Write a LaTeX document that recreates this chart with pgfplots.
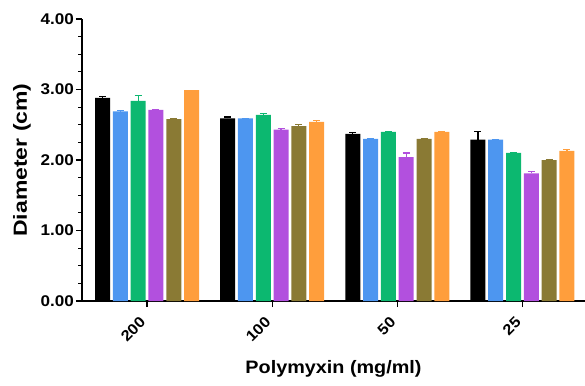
\documentclass[border=0pt]{standalone}
\usepackage{pgfplots}
\pgfplotsset{compat=1.18}
\usepackage{fontspec}
\setmainfont{Liberation Sans}[FakeStretch=1.1]
\definecolor{cblue}{RGB}{77,150,240}
\definecolor{cgreen}{RGB}{12,184,112}
\definecolor{cpurple}{RGB}{178,80,222}
\definecolor{colive}{RGB}{138,122,52}
\definecolor{corange}{RGB}{255,158,60}
\begin{document}
\begin{tikzpicture}
\useasboundingbox (-82pt,-84pt) rectangle (503pt,301pt);
\begin{axis}[
  scale only axis,
  width=503pt, height=282pt,
  ymin=0, ymax=4,
  xmin=-0.52, xmax=3.5,
  ybar=2.8pt, bar width=15pt,
  axis x line=bottom, axis y line=left,
  axis line style={-, line width=1.4pt},
  tick align=outside,
  tick style={line width=1.2pt, black},
  major tick length=6pt, minor tick length=3.5pt,
  xtick={0,1,2,3},
  xticklabels={200,100,50,25},
  x tick label style={xshift=-8pt, yshift=-7pt, rotate=45, anchor=north east, font=\bfseries\fontsize{15}{16}\selectfont, inner sep=1pt},
  ytick={0,1,2,3,4},
  minor y tick num=3,
  yticklabel style={font=\bfseries\fontsize{15.5}{16}\selectfont, inner sep=2pt},
  /pgf/number format/assume math mode=true,
  yticklabel={\pgfmathprintnumber[fixed,fixed zerofill,precision=2]{\tick}},
  ylabel={\bfseries\scalebox{1.1}[1]{Diameter (cm)}},
  xlabel={\bfseries Polymyxin (mg/ml)},
  xlabel style={font=\bfseries\fontsize{18}{20}\selectfont, at={(axis description cs:0.5,0)}, anchor=base, yshift=-72pt},
  ylabel style={font=\bfseries\fontsize{19}{21}\selectfont, at={(axis description cs:-0.1193,0.5)}, anchor=center},
  error bars/y dir=plus, error bars/y explicit,
  clip=false,
]
\addplot[fill=black, draw=none, error bars/error bar style={black, line width=1.2pt}, error bars/error mark options={black, rotate=90, mark size=3.5pt, line width=1.2pt}]
  coordinates {(0,2.88) +- (0,0.02) (1,2.59) +- (0,0.02) (2,2.37) +- (0,0.02) (3,2.29) +- (0,0.11)};
\addplot[fill=cblue, draw=none, error bars/error bar style={cblue, line width=1.2pt}, error bars/error mark options={cblue, rotate=90, mark size=3.5pt, line width=1.2pt}]
  coordinates {(0,2.69) +- (0,0.01) (1,2.59) +- (0,0.0) (2,2.30) +- (0,0.0) (3,2.29) +- (0,0.0)};
\addplot[fill=cgreen, draw=none, error bars/error bar style={cgreen, line width=1.2pt}, error bars/error mark options={cgreen, rotate=90, mark size=3.5pt, line width=1.2pt}]
  coordinates {(0,2.84) +- (0,0.07) (1,2.64) +- (0,0.02) (2,2.40) +- (0,0.0) (3,2.10) +- (0,0.0)};
\addplot[fill=cpurple, draw=none, error bars/error bar style={cpurple, line width=1.2pt}, error bars/error mark options={cpurple, rotate=90, mark size=3.5pt, line width=1.2pt}]
  coordinates {(0,2.71) +- (0,0.01) (1,2.43) +- (0,0.02) (2,2.04) +- (0,0.06) (3,1.81) +- (0,0.03)};
\addplot[fill=colive, draw=none, error bars/error bar style={colive, line width=1.2pt}, error bars/error mark options={colive, rotate=90, mark size=3.5pt, line width=1.2pt}]
  coordinates {(0,2.58) +- (0,0.01) (1,2.48) +- (0,0.02) (2,2.30) +- (0,0.0) (3,2.00) +- (0,0.01)};
\addplot[fill=corange, draw=none, error bars/error bar style={corange, line width=1.2pt}, error bars/error mark options={corange, rotate=90, mark size=3.5pt, line width=1.2pt}]
  coordinates {(0,2.99) +- (0,0.0) (1,2.54) +- (0,0.02) (2,2.40) +- (0,0.0) (3,2.13) +- (0,0.02)};
\end{axis}
\end{tikzpicture}
\end{document}
